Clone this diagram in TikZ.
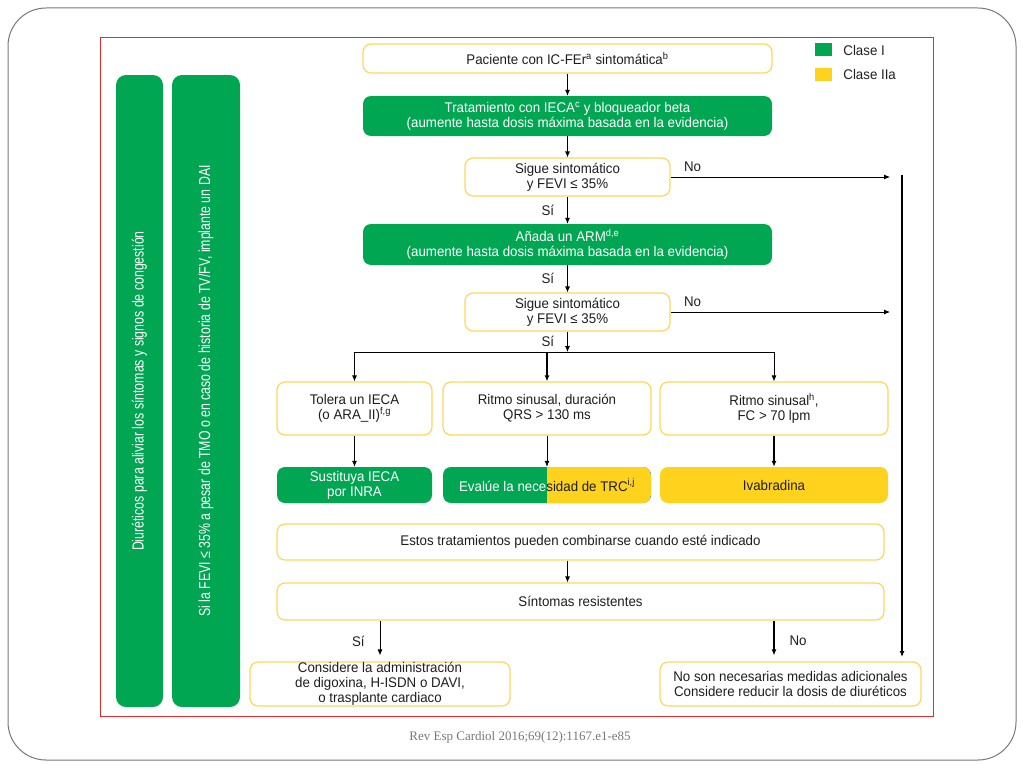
\documentclass[tikz,border=0pt]{standalone}
\usepackage{fontspec}
\setmainfont{Liberation Sans}
\newfontfamily\condfont[FakeStretch=0.95]{Liberation Sans}
\newfontfamily\barfont[FakeStretch=0.77]{Liberation Sans}
\newfontfamily\citefont{Liberation Serif}
\usepackage{tikz}
\usetikzlibrary{arrows.meta, positioning, calc}
\definecolor{mygreen}{RGB}{0, 166, 81}
\definecolor{myyellow}{RGB}{255, 210, 30}
\definecolor{myborder}{RGB}{255, 214, 90}
\definecolor{myred}{RGB}{225, 45, 45}
\definecolor{mygray}{RGB}{120, 120, 120}
\definecolor{mytext}{RGB}{30, 30, 30}
\newcommand{\boxfont}{\condfont\fontsize{14}{15}\selectfont}
\newcommand{\barsize}{\barfont\fontsize{16}{18}\selectfont}

\begin{document}
\begin{tikzpicture}[x=1pt, y=-1pt,
    whitebox/.style={rectangle, rounded corners=8pt, draw=myborder, line width=1.2pt, fill=white, text=mytext, font=\boxfont, align=center, inner sep=0pt},
    greenbox/.style={rectangle, rounded corners=8pt, fill=mygreen, text=white, font=\boxfont, align=center, inner sep=0pt},
    yellowbox/.style={rectangle, rounded corners=8pt, fill=myyellow, text=mytext, font=\boxfont, align=center, inner sep=0pt},
    sidebar/.style={rectangle, rounded corners=10pt, fill=mygreen, text=white, font=\barsize, rotate=90, inner sep=0pt},
    arr/.style={-{Latex[length=6pt, width=5pt]}, line width=0.8pt},
    lbl/.style={font=\boxfont, text=mytext, inner sep=1pt}]
    \useasboundingbox (0,0) rectangle (1024,768);

    % marcos
    \draw[mygray, line width=1pt, rounded corners=38pt] (8,8) rectangle (1016,760);
    \draw[myred, line width=0.8pt] (100,37) rectangle (933,716);
    \node[font=\citefont\fontsize{13}{15}\selectfont, text=mygray] (cita) at (520,737) {Rev Esp Cardiol 2016;69(12):1167.e1-e85};

    % barras laterales
    \node[sidebar, minimum width=632pt, minimum height=47pt] (diureticos) at (139.5,391) {Diuréticos para aliviar los síntomas y signos de congestión};
    \node[sidebar, minimum width=632pt, minimum height=68pt] (dai) at (206,391) {Si la FEVI ≤ 35\% a pesar de TMO o en caso de historia de TV/FV, implante un DAI};

    % leyenda
    \node[rectangle, fill=mygreen, minimum width=17pt, minimum height=13pt, inner sep=0pt] (leg1) at (823.5,50) {};
    \node[right=10pt of leg1, lbl] {Clase I};
    \node[rectangle, fill=myyellow, minimum width=17pt, minimum height=13pt, inner sep=0pt] (leg2) at (823.5,74.5) {};
    \node[right=10pt of leg2, lbl] {Clase IIa};

    % secuencia principal
    \node[whitebox, minimum width=409pt, minimum height=29pt] (paciente) at (567.5,58.5) {Paciente con IC-FEr\textsuperscript{a} sintomática\textsuperscript{b}};
    \node[greenbox, minimum width=409pt, minimum height=40pt] (ieca) at (567.5,116) {Tratamiento con IECA\textsuperscript{c} y bloqueador beta\\(aumente hasta dosis máxima basada en la evidencia)};
    \node[whitebox, minimum width=205pt, minimum height=38pt] (sigue1) at (567.5,177) {Sigue sintomático\\y FEVI ≤ 35\%};
    \node[greenbox, minimum width=409pt, minimum height=41pt] (arm) at (567.5,244.5) {Añada un ARM\textsuperscript{d,e}\\(aumente hasta dosis máxima basada en la evidencia)};
    \node[whitebox, minimum width=205pt, minimum height=38pt] (sigue2) at (567.5,312) {Sigue sintomático\\y FEVI ≤ 35\%};
    \draw[arr] (paciente) -- (ieca);
    \draw[arr] (ieca) -- (sigue1);
    \draw[arr] (sigue1) -- node[left=12pt, lbl] {Sí} (arm);
    \draw[arr] (arm) -- node[left=12pt, lbl] {Sí} (sigue2);

    % ramas No
    \coordinate (no1) at (890,177);
    \coordinate (no2) at (890,312);
    \coordinate (rtop) at (902,175);
    \coordinate (rbot) at (902,657);
    \draw[arr] (sigue1.east) -- node[pos=0.1, above=4pt, lbl] {No} (no1);
    \draw[arr] (sigue2.east) -- node[pos=0.1, above=4pt, lbl] {No} (no2);
    \draw[arr, line width=1.2pt] (rtop) -- (rbot);

    % tres opciones
    \node[whitebox, minimum width=155pt, minimum height=53pt] (tolera) at (354.5,408.5) {Tolera un IECA\\(o ARA\_II)\textsuperscript{f,g}};
    \node[whitebox, minimum width=208pt, minimum height=53pt] (qrs) at (547,408.5) {Ritmo sinusal, duración\\QRS > 130 ms};
    \node[whitebox, minimum width=228pt, minimum height=53pt] (fc) at (774,408.5) {Ritmo sinusal\textsuperscript{h},\\FC > 70 lpm};
    \coordinate (split) at (567.5,352);
    \draw[arr] (sigue2) -- node[left=12pt, lbl] {Sí} (split);
    \draw[line width=0.8pt] (split -| tolera) -- (split -| fc);
    \draw[arr] (split -| tolera) -- (tolera);
    \draw[arr, line width=1.2pt] (split -| qrs) -- (qrs);
    \draw[arr] (split -| fc) -- (fc);

    % tratamientos
    \node[greenbox, minimum width=155pt, minimum height=36pt] (inra) at (354.5,485) {Sustituya IECA\\por INRA};
    \node[rectangle, rounded corners=8pt, fill=mygreen, minimum width=208pt, minimum height=36pt, inner sep=0pt, font=\boxfont,
        path picture={
            \fill[myyellow, sharp corners] (path picture bounding box.north) rectangle (path picture bounding box.south east);
        }] (trc) at (547,485) {\color{white}Evalúe la nece\color{mytext}sidad de TRC\textsuperscript{i,j}};
    \node[yellowbox, minimum width=228pt, minimum height=36pt] (ivabradina) at (774,485) {Ivabradina};
    \draw[arr] (tolera) -- (inra);
    \draw[arr] (qrs) -- (trc);
    \draw[arr, line width=1.2pt] (fc) -- (ivabradina);

    % final
    \node[whitebox, minimum width=607pt, minimum height=36pt] (estos) at (580.5,542) {Estos tratamientos pueden combinarse cuando esté indicado};
    \node[whitebox, minimum width=607pt, minimum height=37pt] (resistentes) at (580.5,601.5) {Síntomas resistentes};
    \node[whitebox, minimum width=260pt, minimum height=44pt] (digoxina) at (380,684) {Considere la administración\\de digoxina, H-ISDN o DAVI,\\o trasplante cardiaco};
    \node[whitebox, minimum width=261pt, minimum height=44pt] (nomas) at (790.5,684) {No son necesarias medidas adicionales\\Considere reducir la dosis de diuréticos};
    \draw[arr] (estos.south -| paciente) -- (resistentes.north -| paciente);
    \draw[arr, shorten >=6pt] (resistentes.south -| digoxina) -- node[left=14pt, lbl] {Sí} (digoxina);
    \draw[arr, line width=1.2pt, shorten >=6pt] (resistentes.south -| fc) -- node[right=14pt, lbl] {No} (nomas.north -| fc);
\end{tikzpicture}
\end{document}
